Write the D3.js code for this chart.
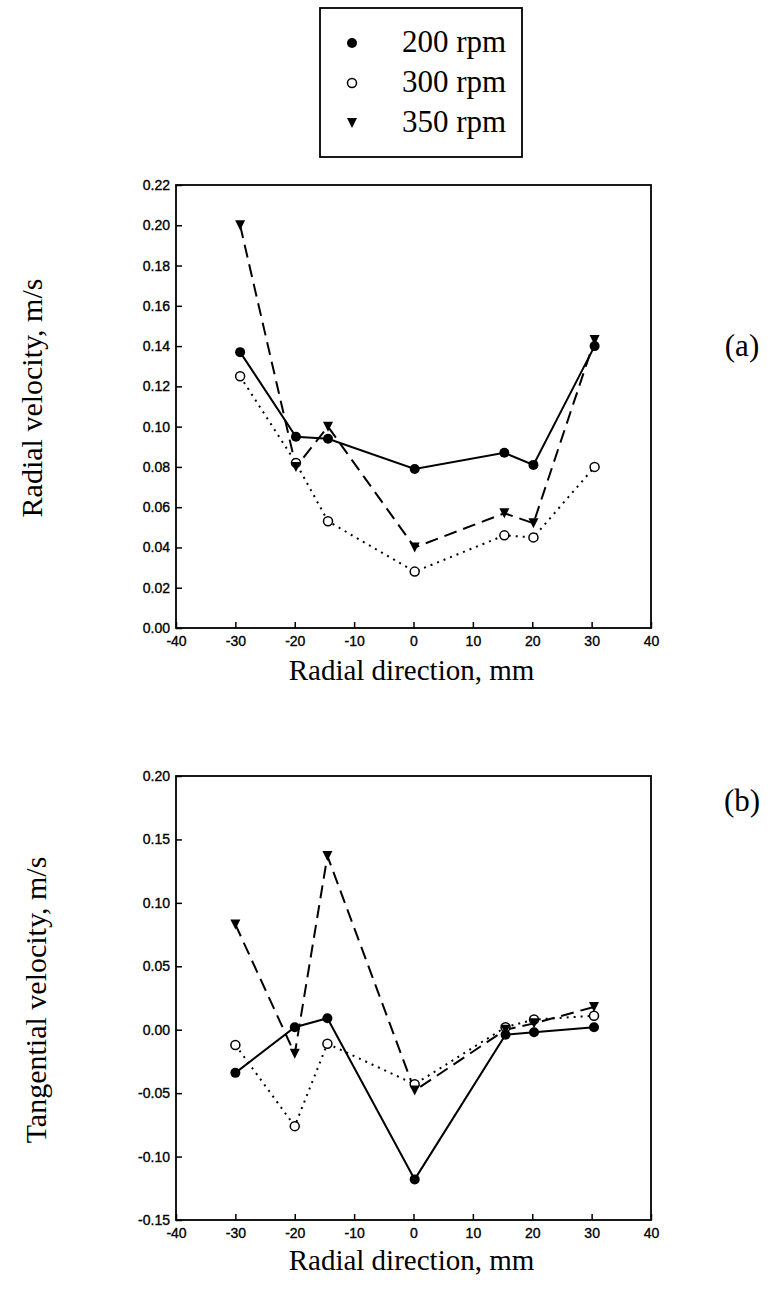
<!DOCTYPE html>
<html>
<head>
<meta charset="utf-8">
<script src="https://cdn.jsdelivr.net/npm/d3@7"></script>
<style>
  body { margin: 0; background: #fff; }
  svg { display: block; }
  .tick text { font-family: "Liberation Sans", Arial, sans-serif; font-size: 14px; fill: #000; stroke: #000; stroke-width: 0.35px; }
  .serif { font-family: "Liberation Serif", "Times New Roman", serif; fill: #000; }
</style>
</head>
<body>
<div id="chart"></div>
<script>
// series names
var seriesNames = ['200 rpm', '300 rpm', '350 rpm'];
// radial direction positions, mm
var xRadial = [-29.2, -19.8, -14.4, 0.2, 15.3, 20.2, 30.5];
var xTangential = [-30, -20, -14.5, 0.2, 15.5, 20.3, 30.4];
// (a) radial velocity, m/s
var radial200 = [0.137, 0.095, 0.094, 0.079, 0.087, 0.081, 0.140];
var radial300 = [0.125, 0.082, 0.053, 0.028, 0.046, 0.045, 0.080];
var radial350 = [0.200, 0.080, 0.100, 0.040, 0.057, 0.052, 0.143];
// (b) tangential velocity, m/s
var tang200 = [-0.034, 0.002, 0.009, -0.118, -0.004, -0.002, 0.002];
var tang300 = [-0.012, -0.076, -0.011, -0.043, 0.002, 0.008, 0.011];
var tang350 = [0.083, -0.019, 0.137, -0.048, 0.000, 0.005, 0.018];
// tick values
var xTicks = [-40, -30, -20, -10, 0, 10, 20, 30, 40];
var yTicksA = [0, 0.02, 0.04, 0.06, 0.08, 0.10, 0.12, 0.14, 0.16, 0.18, 0.20, 0.22];
var yTicksB = [-0.15, -0.10, -0.05, 0, 0.05, 0.10, 0.15, 0.20];

var width = 768, height = 1293;
var svg = d3.select('#chart').append('svg')
    .attr('width', width)
    .attr('height', height);

// plain hyphen for negatives, like the original
var loc = d3.formatLocale({decimal: '.', thousands: ',', grouping: [3], currency: ['', ''], minus: '-'});

// line style per series
var styles = [
    {marker: 'filled', dash: null},
    {marker: 'open', dash: '2,5'},
    {marker: 'tri', dash: '13,7'}
];

function drawMarker(g, type, cx, cy) {
    if (type === 'filled') {
        g.append('circle').attr('cx', cx).attr('cy', cy).attr('r', 5)
            .attr('fill', '#000');
    } else if (type === 'open') {
        g.append('circle').attr('cx', cx).attr('cy', cy).attr('r', 4.5)
            .attr('fill', '#fff').attr('stroke', '#000').attr('stroke-width', 1.5);
    } else {
        g.append('path')
            .attr('d', 'M' + (cx - 5) + ',' + (cy - 5) + 'L' + (cx + 5) + ',' + (cy - 5) + 'L' + cx + ',' + (cy + 5) + 'Z')
            .attr('fill', '#000');
    }
}

function panel(opt) {
    var x = d3.scaleLinear().domain([-40, 40]).range([opt.left, opt.right]);
    var y = d3.scaleLinear().domain(opt.yDomain).range([opt.bottom, opt.top]);
    var g = svg.append('g');

    // x axis, ticks inward
    var xa = g.append('g')
        .attr('transform', 'translate(0,' + opt.bottom + ')')
        .call(d3.axisBottom(x).tickValues(xTicks).tickSize(-6).tickPadding(8).tickFormat(loc.format('d')));
    xa.select('.domain').remove();
    xa.selectAll('line').attr('stroke-width', 1.5);

    // y axis, ticks inward
    var ya = g.append('g')
        .attr('transform', 'translate(' + opt.left + ',0)')
        .call(d3.axisLeft(y).tickValues(opt.yTicks).tickSize(-6).tickPadding(6).tickFormat(loc.format('.2f')));
    ya.select('.domain').remove();
    ya.selectAll('line').attr('stroke-width', 1.5);

    // frame
    g.append('rect')
        .attr('x', opt.left).attr('y', opt.top)
        .attr('width', opt.right - opt.left).attr('height', opt.bottom - opt.top)
        .attr('fill', 'none').attr('stroke', '#000').attr('stroke-width', 1.8);

    var line = d3.line()
        .x(function (d) { return x(d[0]); })
        .y(function (d) { return y(d[1]); });

    opt.series.forEach(function (vals, i) {
        var pts = opt.xs.map(function (xv, j) { return [xv, vals[j]]; });
        g.append('path')
            .datum(pts)
            .attr('d', line)
            .attr('fill', 'none')
            .attr('stroke', '#000')
            .attr('stroke-width', 2)
            .attr('stroke-dasharray', styles[i].dash);
    });
    opt.series.forEach(function (vals, i) {
        opt.xs.forEach(function (xv, j) {
            drawMarker(g, styles[i].marker, x(xv), y(vals[j]));
        });
    });

    // axis titles
    g.append('text').attr('class', 'serif')
        .attr('x', (opt.left + opt.right) / 2 - 2).attr('y', opt.xTitleY)
        .attr('text-anchor', 'middle').style('font-size', '29px')
        .text('Radial direction, mm');
    g.append('text').attr('class', 'serif')
        .attr('transform', 'translate(' + opt.yTitleX + ',' + opt.yTitleY + ') rotate(-90)')
        .attr('text-anchor', 'middle').style('font-size', '30px')
        .text(opt.yTitle);
    g.append('text').attr('class', 'serif')
        .attr('x', 742).attr('y', opt.tagY)
        .attr('text-anchor', 'middle').style('font-size', '31px')
        .text(opt.tag);
}

panel({
    left: 176, right: 651, top: 185, bottom: 628,
    yDomain: [0, 0.22], yTicks: yTicksA,
    xs: xRadial, series: [radial200, radial300, radial350],
    xTitleY: 680, yTitle: 'Radial velocity, m/s', yTitleX: 42, yTitleY: 398,
    tag: '(a)', tagY: 356
});

panel({
    left: 176, right: 651, top: 776, bottom: 1220,
    yDomain: [-0.15, 0.20], yTicks: yTicksB,
    xs: xTangential, series: [tang200, tang300, tang350],
    xTitleY: 1270, yTitle: 'Tangential velocity, m/s', yTitleX: 46, yTitleY: 1000,
    tag: '(b)', tagY: 811
});

// legend
var lg = svg.append('g');
lg.append('rect')
    .attr('x', 320).attr('y', 8).attr('width', 202).attr('height', 149)
    .attr('fill', 'none').attr('stroke', '#000').attr('stroke-width', 1.8);
seriesNames.forEach(function (name, i) {
    var cy = 43 + i * 40;
    drawMarker(lg, styles[i].marker, 352, cy);
    lg.append('text').attr('class', 'serif')
        .attr('x', 402).attr('y', cy + 9)
        .style('font-size', '31px')
        .text(name);
});
</script>
</body>
</html>
